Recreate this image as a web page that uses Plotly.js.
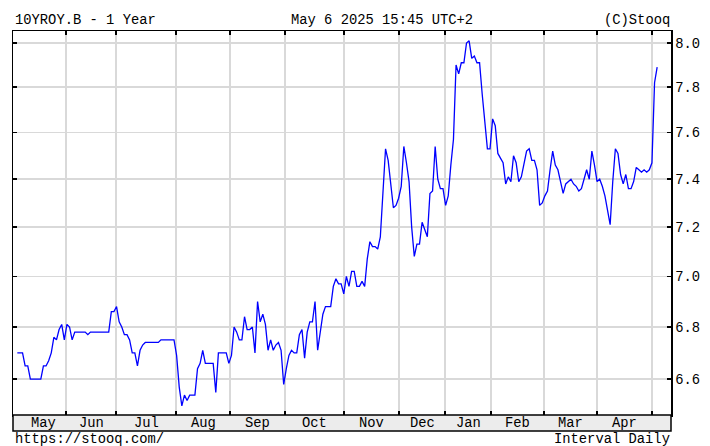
<!DOCTYPE html>
<html>
<head>
<meta charset="utf-8">
<script src="https://cdn.plot.ly/plotly-3.0.1.min.js"></script>
<style>
html,body{margin:0;padding:0;background:#fff;}
#chart{width:710px;height:446px;}
</style>
</head>
<body>
<div id="chart"></div>
<script>
// Daily yield values (trading-day order)
const yields = [
  // May / Jun 2024
  6.70, 6.70, 6.70, 6.65, 6.65, 6.60, 6.60, 6.60, 6.60, 6.60, 6.65, 6.65, 6.67, 6.70, 6.76, 6.75, 6.79, 6.81, 6.75, 6.81, 6.80,
  6.75, 6.78, 6.78, 6.78, 6.78, 6.78, 6.77, 6.78, 6.78, 6.78, 6.78, 6.78, 6.78, 6.78, 6.78, 6.86, 6.86,
  // Jul
  6.88, 6.82, 6.80, 6.77, 6.77, 6.75, 6.70, 6.70, 6.65, 6.71, 6.73, 6.74, 6.74, 6.74, 6.74, 6.74, 6.74, 6.75, 6.75, 6.75, 6.75, 6.75, 6.75,
  // Aug
  6.69, 6.57, 6.50, 6.54, 6.52, 6.54, 6.54, 6.54, 6.64, 6.66, 6.71, 6.66, 6.66, 6.66, 6.66, 6.55, 6.70, 6.70, 6.70, 6.70, 6.66, 6.69,
  // Sep
  6.80, 6.78, 6.75, 6.75, 6.84, 6.79, 6.79, 6.80, 6.70, 6.90, 6.82, 6.85, 6.81, 6.71, 6.75, 6.71, 6.73, 6.74, 6.71, 6.58, 6.64,
  // Oct
  6.69, 6.71, 6.70, 6.70, 6.77, 6.79, 6.68, 6.78, 6.82, 6.82, 6.90, 6.71, 6.79, 6.85, 6.88, 6.88, 6.88, 6.96, 6.99, 6.97, 6.97, 6.93,
  // Nov
  7.00, 6.96, 7.02, 7.02, 6.96, 6.96, 6.98, 6.96, 7.07, 7.14, 7.12, 7.12, 7.11, 7.16, 7.33, 7.53, 7.48, 7.39, 7.28, 7.29, 7.32,
  // Dec
  7.37, 7.54, 7.47, 7.39, 7.20, 7.08, 7.13, 7.13, 7.22, 7.19, 7.16, 7.34, 7.35, 7.54, 7.40, 7.36, 7.36,
  // Jan 2025
  7.29, 7.33, 7.46, 7.57, 7.90, 7.86, 7.91, 7.91, 8.00, 8.01, 7.93, 7.94, 7.91, 7.91, 7.77, 7.64, 7.53, 7.53,
  // Feb
  7.66, 7.63, 7.51, 7.49, 7.47, 7.38, 7.41, 7.39, 7.50, 7.47, 7.39, 7.41, 7.46, 7.52, 7.53, 7.48, 7.48, 7.44, 7.29, 7.30, 7.33,
  // Mar
  7.35, 7.44, 7.52, 7.46, 7.44, 7.39, 7.34, 7.38, 7.39, 7.40, 7.38, 7.37, 7.35, 7.36, 7.40, 7.44, 7.40, 7.52, 7.46,
  // Apr
  7.39, 7.40, 7.37, 7.33, 7.27, 7.21, 7.39, 7.53, 7.51, 7.42, 7.38, 7.42, 7.36, 7.36, 7.39, 7.45, 7.44, 7.43, 7.44, 7.43, 7.44,
  // May 2025
  7.47, 7.82, 7.89
];

const monthNames = ["May", "Jun", "Jul", "Aug", "Sep", "Oct", "Nov", "Dec", "Jan", "Feb", "Mar", "Apr"];
// trading-day index at which each month (Jun .. May) begins
const monthStartIdx = [18.65, 37.79, 60.77, 81.44, 102.5, 125.1, 146.2, 163.8, 181.4, 201.7, 222.0, 243.0];
const firstMonthLabelIdx = 10.2;

const yTickVals = [6.6, 6.8, 7.0, 7.2, 7.4, 7.6, 7.8, 8.0];
const yTickText = ["6.6", "6.8", "7.0", "7.2", "7.4", "7.6", "7.8", "8.0"];

const headerLeft = "10YROY.B - 1 Year";
const headerMid = "May 6 2025 15:45 UTC+2";
const headerRight = "(C)Stooq";
const footerLeft = "https://stooq.com/";
const footerRight = "Interval Daily";

// ---- layout geometry ----
const W = 710, H = 446;
const ml = 13, mr = 39, mt = 31, mb = 31;
const plotW = W - ml - mr, plotH = H - mt - mb;
const px2x = px => (px - ml) / plotW;
const py2y = py => (H - mb - py) / plotH;

const FONT = "Liberation Mono, DejaVu Sans Mono, monospace";
const FS = 13.8;

const xIdx = yields.map((_, i) => i);

const trace = {
  x: xIdx,
  y: yields,
  type: "scatter",
  mode: "lines",
  line: {color: "#0000ff", width: 1.3},
  hoverinfo: "skip"
};

const annotations = [];
const labelCenters = [firstMonthLabelIdx];
for (let i = 1; i < monthNames.length; i++) {
  labelCenters.push((monthStartIdx[i - 1] + monthStartIdx[i]) / 2);
}
monthNames.forEach((m, i) => {
  annotations.push({
    x: labelCenters[i], xref: "x", y: py2y(423), yref: "paper",
    text: m, showarrow: false, xanchor: "center", yanchor: "middle",
    font: {family: FONT, size: FS, color: "#000"}
  });
});
function txt(text, px, py, anchor) {
  annotations.push({
    x: px2x(px), xref: "paper", y: py2y(py), yref: "paper",
    text: text, showarrow: false, xanchor: anchor, yanchor: "middle",
    font: {family: FONT, size: FS, color: "#000"}
  });
}
txt(headerLeft, 13, 20, "left");
txt(headerMid, 289, 20, "left");
txt(headerRight, 672, 20, "right");
txt(footerLeft, 13, 439, "left");
txt(footerRight, 672, 439, "right");

const layout = {
  width: W, height: H,
  margin: {l: ml, r: mr, t: mt, b: mb, pad: 0},
  paper_bgcolor: "#ffffff",
  plot_bgcolor: "#ffffff",
  showlegend: false,
  xaxis: {
    range: [-1.65, 250.3],
    tickmode: "array",
    tickvals: monthStartIdx,
    showticklabels: false,
    ticks: "inside", ticklen: 4, tickwidth: 1.5, tickcolor: "#000",
    showgrid: true, gridcolor: "#d9d9d9", gridwidth: 1.5,
    showline: true, linecolor: "#000", linewidth: 1.5, mirror: "ticks",
    zeroline: false, fixedrange: true
  },
  yaxis: {
    type: "log",
    range: [Math.log10(6.466), Math.log10(8.055)],
    side: "right",
    tickmode: "array",
    tickvals: yTickVals,
    ticktext: yTickText,
    ticks: "inside", ticklen: 4, tickwidth: 1.5, tickcolor: "#000",
    tickfont: {family: FONT, size: FS, color: "#000"},
    showgrid: true, gridcolor: "#d9d9d9", gridwidth: 1.5,
    showline: true, linecolor: "#000", linewidth: 1.5, mirror: "ticks",
    zeroline: false, fixedrange: true
  },
  shapes: [{
    type: "rect", xref: "paper", yref: "paper",
    x0: 0, x1: 1, y0: py2y(431), y1: 0,
    fillcolor: "#ececec",
    line: {color: "#000", width: 1.5},
    layer: "above"
  }],
  annotations: annotations
};

Plotly.newPlot("chart", [trace], layout, {staticPlot: true, displayModeBar: false});
</script>
</body>
</html>
